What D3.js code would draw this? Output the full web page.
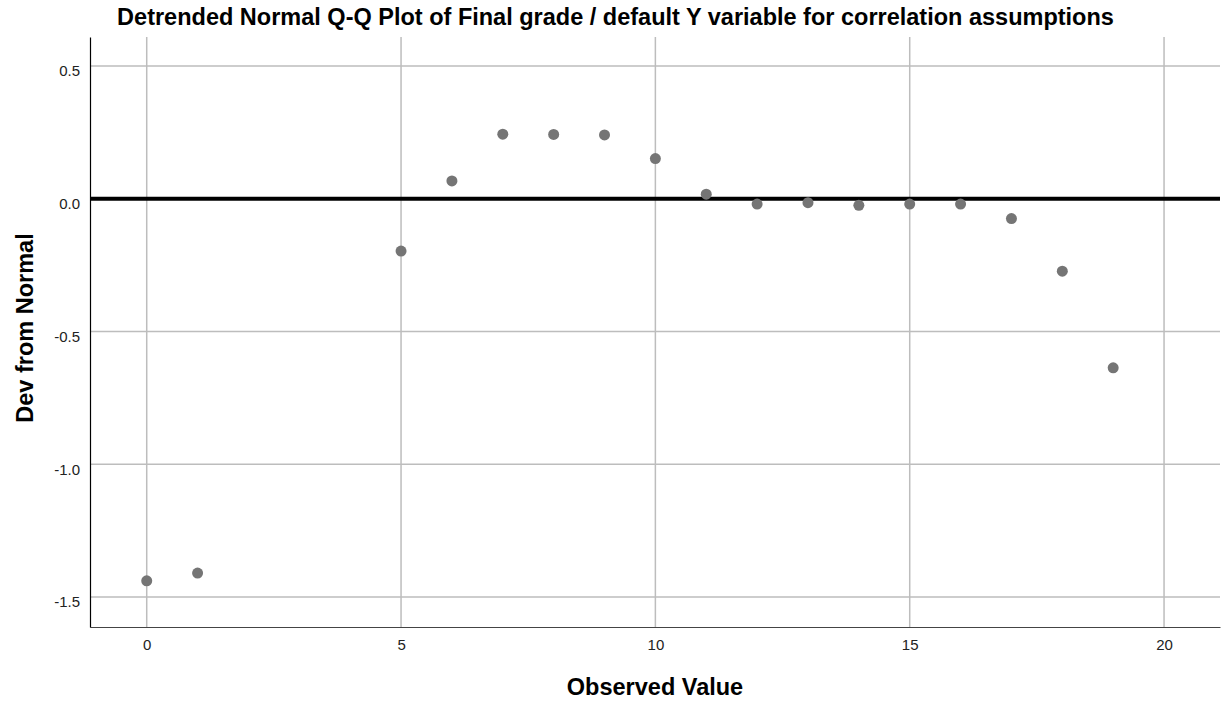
<!DOCTYPE html>
<html><head><meta charset="utf-8">
<script src="https://cdn.jsdelivr.net/npm/d3@7"></script>
<style>body{margin:0;background:#fff}svg{display:block}text{font-family:"Liberation Sans",Arial,sans-serif}</style>
</head><body><svg id="c" width="1222" height="702"></svg>
<script>
const observed = [0,1,5,6,7,8,9,10,11,12,13,14,15,16,17,18,19];
const deviation = [-1.439,-1.410,-0.197,0.067,0.243,0.242,0.240,0.151,0.017,-0.020,-0.015,-0.025,-0.020,-0.020,-0.075,-0.273,-0.637];
const xTicks = [0,5,10,15,20];
const yTicks = [0.5,0.0,-0.5,-1.0,-1.5];
const title = "Detrended Normal Q-Q Plot of Final grade / default Y variable for correlation assumptions";

const svg = d3.select("#c");
const L=90,R=1220,T=37,B=627;
const x = d3.scaleLinear().domain([-1.115,21.1]).range([L,R]);
const y = d3.scaleLinear().domain([-1.613,0.609]).range([B,T]);

svg.append("g").selectAll("line").data(xTicks).join("line")
  .attr("x1",d=>x(d)).attr("x2",d=>x(d)).attr("y1",T).attr("y2",B)
  .attr("stroke","#bdbdbd").attr("stroke-width",1.5);
svg.append("g").selectAll("line").data(yTicks).join("line")
  .attr("x1",L).attr("x2",R).attr("y1",d=>y(d)).attr("y2",d=>y(d))
  .attr("stroke","#bdbdbd").attr("stroke-width",1.5);

const fmtY = d => d3.format(".1f")(d).replace("\u2212","-");
const xa = svg.append("g").attr("transform",`translate(0,${B})`)
  .call(d3.axisBottom(x).tickValues(xTicks).tickSize(0).tickFormat(d3.format("d")));
xa.select(".domain").attr("stroke","#444").attr("stroke-width",1.2);
xa.selectAll("text").attr("y",23).attr("dy",0).style("font-size","15px").attr("fill","#222");
const ya = svg.append("g").attr("transform",`translate(${L},0)`)
  .call(d3.axisLeft(y).tickValues(yTicks).tickSize(0).tickFormat(fmtY));
ya.select(".domain").attr("stroke","#000").attr("stroke-width",1.2);
ya.selectAll("text").attr("x",-10).attr("dy",0).attr("y",10).style("font-size","15px").attr("fill","#222");

svg.append("line").attr("x1",L).attr("x2",R).attr("y1",y(0)).attr("y2",y(0))
  .attr("stroke","#000").attr("stroke-width",4);

svg.append("g").selectAll("circle").data(observed).join("circle")
  .attr("cx",d=>x(d)).attr("cy",(d,i)=>y(deviation[i])).attr("r",5.5)
  .attr("fill","#757575");

svg.append("text").attr("x",615.5).attr("y",25).attr("text-anchor","middle")
  .style("font-size","23.5px").attr("font-weight","bold").text(title);
svg.append("text").attr("x",655).attr("y",695).attr("text-anchor","middle")
  .style("font-size","23.5px").attr("font-weight","bold").text("Observed Value");
svg.append("text").attr("transform","translate(33,328) rotate(-90)").attr("text-anchor","middle")
  .style("font-size","23.5px").attr("font-weight","bold").text("Dev from Normal");
</script></body></html>
